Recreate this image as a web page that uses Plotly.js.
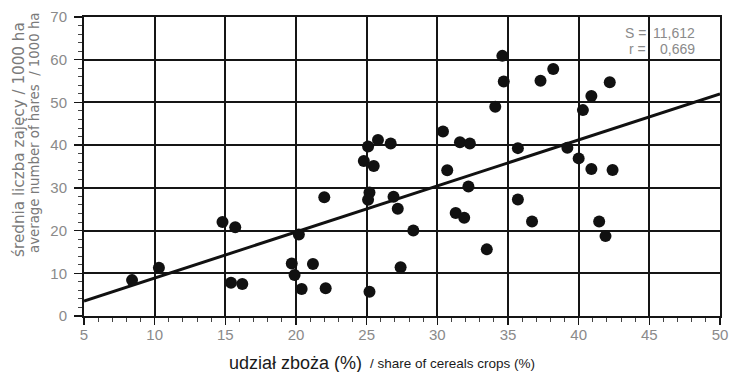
<!DOCTYPE html>
<html>
<head>
<meta charset="utf-8">
<script src="https://cdn.plot.ly/plotly-3.0.1.min.js"></script>
<style>html,body{margin:0;padding:0;background:#fff;}#chart{width:733px;height:372px;}</style>
</head>
<body>
<div id="chart"></div>
<script>
// share of cereal crops (%)
var cerealShare = [8.4, 10.3, 14.8, 15.7, 15.4, 16.2, 19.7, 20.2, 19.9, 20.4,
  21.2, 22.0, 22.1, 25.2, 25.2, 25.1, 26.9, 27.2, 27.4, 28.3,
  24.8, 25.5, 25.1, 25.8, 26.7, 30.4, 30.7, 31.6, 32.3, 32.2,
  31.3, 31.9, 33.5, 34.1, 34.6, 34.7, 35.7, 35.7, 36.7, 37.3,
  38.2, 39.2, 40.0, 40.3, 40.9, 40.9, 41.45, 41.9, 42.2, 42.4];
// average number of hares / 1000 ha
var hareDensity = [8.4, 11.3, 22.0, 20.8, 7.8, 7.5, 12.3, 19.1, 9.6, 6.3,
  12.2, 27.8, 6.5, 5.7, 28.9, 27.2, 27.9, 25.1, 11.4, 20.0,
  36.3, 35.1, 39.7, 41.2, 40.4, 43.2, 34.1, 40.7, 40.4, 30.3,
  24.1, 23.0, 15.6, 49.0, 60.9, 54.9, 39.3, 27.3, 22.1, 55.1,
  57.8, 39.4, 36.9, 48.2, 51.5, 34.4, 22.1, 18.7, 54.7, 34.2];
// regression line end points
var fitX = [5, 50];
var fitY = [3.5, 52.0];
var xTicks = [5, 10, 15, 20, 25, 30, 35, 40, 45, 50];
var yTicks = [0, 10, 20, 30, 40, 50, 60, 70];
var statLabels = ['S =', 'r ='];
var statValues = ['11,612', '0,669'];
var statRows = [66.3, 62.4];

var narrow = '"Liberation Sans Narrow", "Arial Narrow", "Liberation Sans", Arial, sans-serif';
var sans = '"Liberation Sans", Arial, sans-serif';
var grey = '#8a8a8a';

var traces = [
  {x: fitX, y: fitY, type: 'scatter', mode: 'lines',
   line: {color: '#111', width: 3}, hoverinfo: 'skip', showlegend: false},
  {x: cerealShare, y: hareDensity, type: 'scatter', mode: 'markers',
   marker: {color: '#111', size: 12}, showlegend: false}
];

var axisCommon = {
  showgrid: true, gridcolor: '#151515', gridwidth: 2,
  showline: true, linecolor: '#151515', linewidth: 2, mirror: true,
  ticks: 'outside', tickcolor: '#151515', tickwidth: 1.5,
  zeroline: false, fixedrange: true
};

var annotations = [
  {xref: 'paper', yref: 'paper', x: (364 - 84) / 636, y: -0.157, xanchor: 'right', yanchor: 'middle',
   showarrow: false, text: 'udział zboża (%)',
   font: {family: sans, size: 18, color: '#1a1a1a'}},
  {xref: 'paper', yref: 'paper', x: (368 - 84) / 636, y: -0.16, xanchor: 'left', yanchor: 'middle',
   showarrow: false, text: '/ share of cereals crops (%)',
   font: {family: narrow, size: 13.5, color: '#1a1a1a'}},
  {xref: 'paper', yref: 'paper', x: (19 - 84) / 636, y: 0.589, xanchor: 'center', yanchor: 'middle',
   showarrow: false, textangle: -90,
   text: 'średnia liczba zajęcy / 1000 ha',
   font: {family: '"DejaVu Sans", sans-serif', size: 15.2, color: '#7a7a7a'}},
  {xref: 'paper', yref: 'paper', x: (34 - 84) / 636, y: 0.612, xanchor: 'center', yanchor: 'middle',
   showarrow: false, textangle: -90,
   text: 'average number of hares  / 1000 ha',
   font: {family: '"DejaVu Sans", sans-serif', size: 13.3, color: '#7a7a7a'}}
];
for (var i = 0; i < statLabels.length; i++) {
  annotations.push({xref: 'x', yref: 'y', x: 45, y: statRows[i], xanchor: 'right', yanchor: 'middle',
    xshift: -1, showarrow: false, text: statLabels[i],
    font: {family: sans, size: 14, color: grey}});
  annotations.push({xref: 'x', yref: 'y', x: 48.4, y: statRows[i], xanchor: 'right', yanchor: 'middle',
    showarrow: false, text: statValues[i],
    font: {family: sans, size: 14, color: grey}});
}

var layout = {
  width: 733, height: 372,
  margin: {l: 84, r: 13, t: 17, b: 56},
  paper_bgcolor: '#fff', plot_bgcolor: '#fff',
  showlegend: false,
  xaxis: Object.assign({}, axisCommon, {
    range: [5, 50], tickmode: 'array', tickvals: xTicks, ticktext: xTicks.map(String),
    ticklen: 7, ticklabelstandoff: -3,
    tickfont: {family: narrow, size: 15, color: grey},
    minor: {dtick: 1, tick0: 5, ticks: 'outside', ticklen: 4, tickcolor: '#444', tickwidth: 1, showgrid: false}
  }),
  yaxis: Object.assign({}, axisCommon, {
    range: [0, 70], tickmode: 'array', tickvals: yTicks, ticktext: yTicks.map(String),
    ticklen: 8, ticklabelstandoff: 4,
    tickfont: {family: narrow, size: 15, color: grey},
    minor: {dtick: 2, tick0: 0, ticks: 'outside', ticklen: 4, tickcolor: '#444', tickwidth: 1, showgrid: false}
  }),
  annotations: annotations
};

Plotly.newPlot('chart', traces, layout, {staticPlot: true, displayModeBar: false});
</script>
</body>
</html>
